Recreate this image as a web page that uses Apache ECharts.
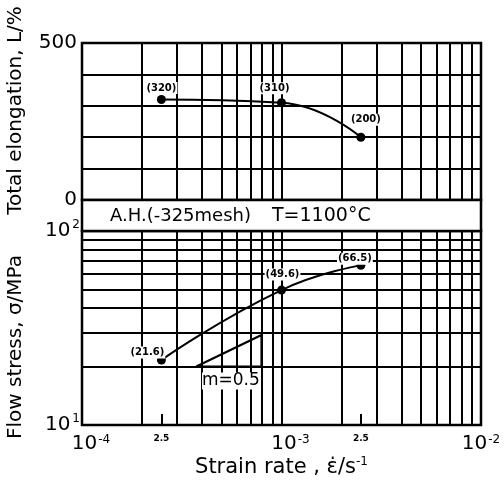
<!DOCTYPE html>
<html>
<head>
<meta charset="utf-8">
<script src="https://cdn.jsdelivr.net/npm/echarts@6/dist/echarts.min.js"></script>
<style>
html,body{margin:0;padding:0;background:#fff;}
#chart{width:504px;height:482px;}
</style>
</head>
<body>
<div id="chart"></div>
<script>
// strain rate (1/s) of the three tests
const strainRates = [2.5e-4, 1e-3, 2.5e-3];
const elongation = [320, 310, 200];
const flowStress = [21.6, 49.6, 66.5];

// grid lines of the log paper
const rateGrid = [2e-4, 3e-4, 4e-4, 5e-4, 6e-4, 7e-4, 8e-4, 9e-4, 1e-3,
                  2e-3, 3e-3, 4e-3, 5e-3, 6e-3, 7e-3, 8e-3, 9e-3];
const stressGrid = [20, 30, 40, 50, 60, 70, 80, 90];
const rateLabels = [1e-4, 2.5e-4, 1e-3, 2.5e-3, 1e-2];
const rateTicks = [2.5e-4, 2.5e-3];
const elongLabels = [0, 500];

// slope triangle m=0.5
const triX = [3.74e-4, 7.94e-4, 7.94e-4, 3.74e-4];
const triY = [20, 20, 29.1, 20];

const elongOffsets = [[0, 5], [-7, 2], [5, -1]];
const stressOffsets = [[-14, 9], [1, 1], [-6, 10]];

const font = 'DejaVu Sans';
const black = '#000';

function pts(ys, offs) {
    return strainRates.map((x, i) => ({
        value: [x, ys[i]],
        label: {offset: offs[i]}
    }));
}

function sup(v, base) {
    let e = Math.round(Math.log10(v));
    return '{' + (base || 'b') + '|10}{s|' + (e < 0 ? '-' + (-e) : e) + '}';
}

// vertical line from bottom to top of a panel, placed by the axis scale
function vLines(lo, hi) {
    return rateGrid.map(v => [{coord: [v, lo]}, {coord: [v, hi]}]);
}

let chart = echarts.init(document.getElementById('chart'));

let gridPen = {color: black, width: 2, type: 'solid'};
let markBase = {silent: true, animation: false, symbol: 'none', label: {show: false}, lineStyle: gridPen};

let pointLabel = {
    show: true, position: 'top', distance: 6,
    formatter: p => '(' + p.value[1] + ')',
    fontSize: 10, fontWeight: 'bold', color: black,
    backgroundColor: '#fff', padding: [1, 1]
};

let option = {
    animation: false,
    textStyle: {fontFamily: font, color: black},
    grid: [
        {left: 82, top: 43, width: 399, height: 157, show: true, borderColor: black, borderWidth: 2.5,
         outerBoundsMode: 'none'},
        {left: 82, top: 231, width: 399, height: 194, show: true, borderColor: black, borderWidth: 2.5,
         outerBoundsMode: 'none'}
    ],
    xAxis: [
        {
            type: 'log', logBase: 10, gridIndex: 0, min: 1e-4, max: 1e-2,
            axisLine: {show: false}, axisTick: {show: false},
            axisLabel: {show: false}, splitLine: {show: false}
        },
        {
            type: 'log', logBase: 10, gridIndex: 1, min: 1e-4, max: 1e-2,
            axisLine: {show: false},
            axisTick: {show: true, inside: true, length: 11, customValues: rateTicks,
                       lineStyle: {color: black, width: 2}},
            splitLine: {show: false},
            axisLabel: {
                customValues: rateLabels, margin: 9, color: black,
                formatter: v => {
                    let e = Math.log10(v);
                    if (Math.abs(e - Math.round(e)) < 1e-6) return sup(v, Math.round(e) === -2 ? 'c' : 'b');
                    return '{t|2.5}';
                },
                rich: {
                    b: {fontSize: 20, fontFamily: font, color: black, padding: [0, 0, 0, 18], verticalAlign: 'top'},
                    c: {fontSize: 20, fontFamily: font, color: black, verticalAlign: 'top'},
                    s: {fontSize: 12, fontFamily: font, color: black, verticalAlign: 'top', padding: [0, 0, 8, 1]},
                    t: {fontSize: 9, fontWeight: 'bold', fontFamily: font, color: black}
                }
            },
            name: '{a|Strain rate , ε̇/s}{s|-1}',
            nameLocation: 'middle', nameGap: 31,
            nameTextStyle: {
                rich: {
                    a: {fontSize: 21, fontFamily: font, color: black},
                    s: {fontSize: 12, fontFamily: font, color: black, padding: [0, 0, 11, 0]}
                }
            }
        }
    ],
    yAxis: [
        {
            type: 'value', gridIndex: 0, min: 0, max: 500, interval: 100,
            axisLine: {show: false}, axisTick: {show: false},
            splitLine: {show: true, lineStyle: gridPen},
            axisLabel: {customValues: elongLabels, fontSize: 20, color: black, margin: 5},
            name: 'Total elongation, L/%', nameLocation: 'middle', nameGap: 56, nameRotate: 90,
            nameTextStyle: {fontSize: 20, color: black, padding: [0, 0, 0, 22]}
        },
        {
            type: 'log', logBase: 10, gridIndex: 1, min: 10, max: 100,
            axisLine: {show: false}, axisTick: {show: false},
            splitLine: {show: false},
            axisLabel: {
                formatter: v => sup(v), margin: 2, color: black,
                rich: {
                    b: {fontSize: 20, fontFamily: font, color: black},
                    s: {fontSize: 12, fontFamily: font, color: black, padding: [0, 0, 12, 2]}
                }
            },
            name: 'Flow stress, σ/MPa', nameLocation: 'middle', nameGap: 56, nameRotate: 90,
            nameTextStyle: {fontSize: 20, color: black, padding: [0, 38, 0, 0]}
        }
    ],
    series: [
        {
            type: 'line', xAxisIndex: 0, yAxisIndex: 0, data: [], silent: true,
            markLine: Object.assign({}, markBase, {data: vLines(0, 500)})
        },
        {
            type: 'line', xAxisIndex: 1, yAxisIndex: 1, data: [], silent: true,
            markLine: Object.assign({}, markBase, {
                data: vLines(10, 100).concat(stressGrid.map(v => [{coord: [1e-4, v]}, {coord: [1e-2, v]}]))
            })
        },
        {
            type: 'line', xAxisIndex: 0, yAxisIndex: 0, z: 5,
            data: pts(elongation, elongOffsets),
            smooth: 0.5, symbol: 'circle', symbolSize: 9,
            itemStyle: {color: black}, lineStyle: {color: black, width: 2},
            label: pointLabel
        },
        {
            type: 'line', xAxisIndex: 1, yAxisIndex: 1, z: 5,
            data: pts(flowStress, stressOffsets),
            smooth: 0.5, symbol: 'circle', symbolSize: 9,
            itemStyle: {color: black}, lineStyle: {color: black, width: 2},
            label: pointLabel
        },
        {
            type: 'line', xAxisIndex: 1, yAxisIndex: 1, z: 5,
            data: triX.map((x, i) => [x, triY[i]]),
            symbol: 'none', lineStyle: {color: black, width: 2.2}
        }
    ],
    graphic: [
        {
            type: 'rect', z: 10,
            shape: {x: 82, y: 200, width: 399, height: 31},
            style: {fill: '#fff', stroke: black, lineWidth: 2.5}
        },
        {
            type: 'text', z: 11, x: 110, y: 216,
            style: {text: 'A.H.(-325mesh)', font: '18px "DejaVu Sans"', fill: black, verticalAlign: 'middle'}
        },
        {
            type: 'text', z: 11, x: 272, y: 216,
            style: {text: 'T=1100°C', font: '19px "DejaVu Sans"', fill: black, verticalAlign: 'middle'}
        },
        {
            type: 'text', z: 11, x: 202, y: 381,
            style: {text: 'm=0.5', font: '17px "DejaVu Sans"', fill: black, verticalAlign: 'middle',
                     backgroundColor: '#fff'}
        }
    ]
};
chart.setOption(option);
</script>
</body>
</html>
